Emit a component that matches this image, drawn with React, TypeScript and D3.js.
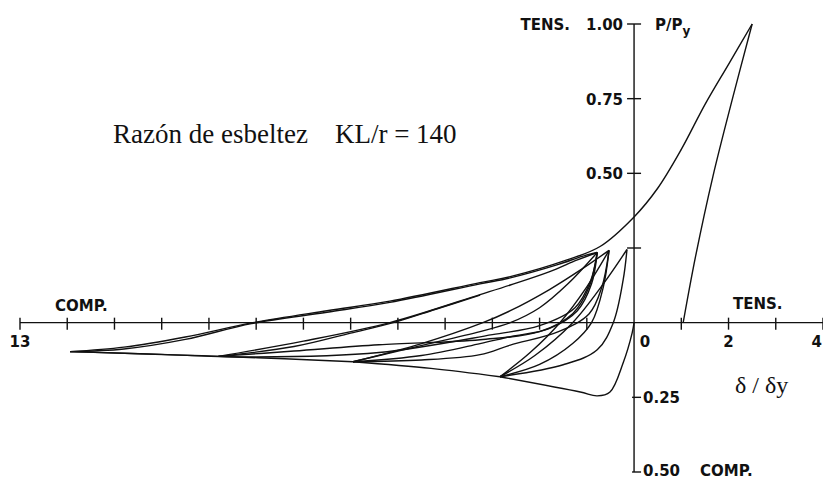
import React from 'react';
import * as d3 from 'd3';

type Pt = [number, number];

// ---- data (δ/δy , P/Py ; compression negative) ----
const initialCompression: Pt[] = [[0, 0], [-0.04, -0.034], [-0.23, -0.134], [-0.51, -0.232], [-0.78, -0.245], [-1.14, -0.232], [-2.84, -0.181]];
const reloadA: Pt[] = [[-2.84, -0.181], [-2.1, -0.11], [-1.3, 0], [-0.65, 0.13], [-0.15, 0.245]];
const unloadA: Pt[] = [[-0.15, 0.245], [-0.23, 0.144], [-0.44, 0], [-0.78, -0.091], [-1.5, -0.141], [-2.84, -0.181]];
const reloadB: Pt[] = [[-2.84, -0.181], [-2.2, -0.1], [-1.57, 0], [-1.0, 0.12], [-0.53, 0.242]];
const unloadB: Pt[] = [[-0.53, 0.242], [-0.65, 0.12], [-0.9, 0], [-1.3, -0.07], [-2.0, -0.14], [-2.84, -0.181]];
const envelope12: Pt[] = [[-2.84, -0.181], [-4.3, -0.153], [-5.95, -0.131]];
const reloadB2: Pt[] = [[-5.95, -0.131], [-4.5, -0.07], [-3.2, 0], [-2.62, 0.04], [-1.8, 0.11], [-1.1, 0.18], [-0.53, 0.242]];
const unloadB2: Pt[] = [[-0.53, 0.242], [-0.68, 0.12], [-0.95, 0.03], [-1.6, -0.03], [-2.62, -0.075], [-3.26, -0.107], [-4.5, -0.125], [-5.95, -0.131]];
const reloadC2: Pt[] = [[-5.95, -0.131], [-4.6, -0.08], [-3.26, -0.03], [-2.62, 0.0], [-2.0, 0.05], [-1.4, 0.13], [-0.78, 0.235]];
const unloadC2: Pt[] = [[-0.78, 0.235], [-0.9, 0.13], [-1.2, 0.04], [-1.8, -0.02], [-2.62, -0.047], [-3.26, -0.07], [-4.5, -0.11], [-5.95, -0.131]];
const envelope23: Pt[] = [[-5.95, -0.131], [-7.4, -0.121], [-8.8, -0.113]];
const reloadC3: Pt[] = [[-8.8, -0.113], [-7.0, -0.062], [-5.17, 0], [-3.26, 0.094], [-2.62, 0.126], [-1.8, 0.17], [-1.2, 0.21], [-0.78, 0.235]];
const reloadC3b: Pt[] = [[-8.8, -0.113], [-7.2, -0.08], [-6.0, -0.035], [-5.1, 0.0], [-4.2, 0.045], [-3.26, 0.092]];
const unloadC3: Pt[] = [[-0.78, 0.235], [-0.95, 0.12], [-1.3, 0.03], [-2.0, -0.03], [-3.26, -0.057], [-5.4, -0.074], [-7.2, -0.095], [-8.8, -0.113]];
const envelope34: Pt[] = [[-8.8, -0.113], [-10.5, -0.104], [-11.94, -0.097]];
const reloadC4: Pt[] = [[-11.94, -0.097], [-10.8, -0.088], [-9.5, -0.056], [-8.1, -0.003], [-6.5, 0.035], [-5.17, 0.068], [-3.26, 0.13], [-2.62, 0.15], [-1.6, 0.195], [-1.1, 0.222], [-0.78, 0.235]];
const unloadC4: Pt[] = [[-0.78, 0.235], [-0.92, 0.14], [-1.25, 0.05], [-2.0, -0.01], [-3.0, -0.04], [-5.4, -0.1], [-8.0, -0.115], [-10, -0.106], [-11.94, -0.097]];
const finalTension: Pt[] = [[-11.94, -0.097], [-10.8, -0.082], [-9.5, -0.048], [-8.07, 0], [-6.5, 0.04], [-5.17, 0.072], [-3.26, 0.134], [-2.62, 0.154], [-1.42, 0.21], [-0.72, 0.255], [0, 0.354], [0.5, 0.45], [1.0, 0.58], [1.5, 0.73], [2.0, 0.865], [2.5, 1.0]];
const finalUnload: Pt[] = [[2.5, 1.0], [2.1, 0.76], [1.67, 0.49], [1.3, 0.22], [1.04, 0]];

const segments: Pt[][] = [
  initialCompression, reloadA, unloadA, reloadB, unloadB, envelope12,
  reloadB2, unloadB2, reloadC2, unloadC2, envelope23, reloadC3, reloadC3b,
  unloadC3, envelope34, reloadC4, unloadC4, finalTension, finalUnload,
];

const xTickValues = d3.range(-13, 5).filter((v) => v !== 0);
const xLabelValues = [-13, 0, 2, 4];
const xLabelTexts = ['13', '0', '2', '4'];
const yTensionTicks = [1.0, 0.75, 0.5, 0.25];
const yTensionLabelValues = [1.0, 0.75, 0.5];
const yTensionLabelTexts = ['1.00', '0.75', '0.50'];
const yCompTicks = [-0.25, -0.5];
const yCompLabelTexts = ['0.25', '0.50'];

const W = 823;
const H = 479;
const x = d3.scaleLinear().domain([-13, 4]).range([20, 823]);
const y = d3.scaleLinear().domain([-0.5, 1]).range([472, 24]);

const lineGen = d3
  .line<Pt>()
  .x((d) => x(d[0]))
  .y((d) => y(d[1]))
  .curve(d3.curveCatmullRom.alpha(0.5));

const bold: React.CSSProperties = { fontFamily: '"DejaVu Sans", sans-serif', fontWeight: 'bold', fontSize: 15 };
const serif: React.CSSProperties = { fontFamily: '"Liberation Serif", "Times New Roman", serif' };

export default function App() {
  const x0 = x(0);
  const y0 = y(0);
  const ink = '#111';
  return (
    <svg width={W} height={H} style={{ position: 'absolute', left: 0, top: 0, background: '#fff' }}>
      {/* axes */}
      <line x1={x(-13)} x2={x(4)} y1={y0} y2={y0} stroke={ink} strokeWidth={1.4} />
      <line x1={x0} x2={x0} y1={y(1)} y2={y(-0.5)} stroke={ink} strokeWidth={1.4} />
      {xTickValues.map((v) => (
        <line key={'xt' + v} x1={x(v)} x2={x(v)} y1={y0 - 5} y2={y0 + 7} stroke={ink} strokeWidth={1.4} />
      ))}
      {yTensionTicks.map((v) => (
        <line key={'yt' + v} x1={x0 - 7} x2={x0 + 7} y1={y(v)} y2={y(v)} stroke={ink} strokeWidth={1.4} />
      ))}
      {yCompTicks.map((v) => (
        <line key={'yc' + v} x1={x0 - 2} x2={x0 + 7} y1={y(v)} y2={y(v)} stroke={ink} strokeWidth={1.4} />
      ))}
      {/* curves */}
      {segments.map((s, i) => (
        <path key={'s' + i} d={lineGen(s) || ''} fill="none" stroke={ink} strokeWidth={1.4} strokeLinejoin="round" />
      ))}
      {/* x labels */}
      {xLabelValues.map((v, i) => (
        <text
          key={'xl' + v}
          x={v === 4 ? x(v) - 1 : x(v) + (v === 0 ? 11 : 0)}
          y={y0 + 24}
          textAnchor={v === 4 ? 'end' : 'middle'}
          style={bold}
          fill={ink}
        >
          {xLabelTexts[i]}
        </text>
      ))}
      {/* y labels */}
      {yTensionLabelValues.map((v, i) => (
        <text key={'yl' + v} x={x0 - 11} y={y(v) + 6} textAnchor="end" style={bold} fill={ink}>
          {yTensionLabelTexts[i]}
        </text>
      ))}
      {yCompTicks.map((v, i) => (
        <text key={'ycl' + v} x={x0 + 9} y={v === -0.5 ? y(v) + 4 : y(v) + 6} textAnchor="start" style={bold} fill={ink}>
          {yCompLabelTexts[i]}
        </text>
      ))}
      <text x={x0 + 66} y={y(-0.5) + 4} style={bold} fill={ink}>COMP.</text>
      <text x={570} y={y(1) + 6} textAnchor="end" style={bold} fill={ink}>TENS.</text>
      <text x={655} y={y(1) + 6} style={bold} fill={ink}>
        P/P<tspan dy={5} fontSize={12}>y</tspan>
      </text>
      <text x={55} y={y0 - 12} style={bold} fill={ink}>COMP.</text>
      <text x={733} y={y0 - 14} style={bold} fill={ink}>TENS.</text>
      <text x={735} y={393} style={{ ...serif, fontSize: 24 }} fill={ink}>δ / δy</text>
      <text x={113} y={143} style={{ ...serif, fontSize: 27 }} fill={ink} xmlSpace="preserve">
        Razón de esbeltez{'\u00a0\u00a0\u00a0\u00a0'}KL/r = 140
      </text>
    </svg>
  );
}
